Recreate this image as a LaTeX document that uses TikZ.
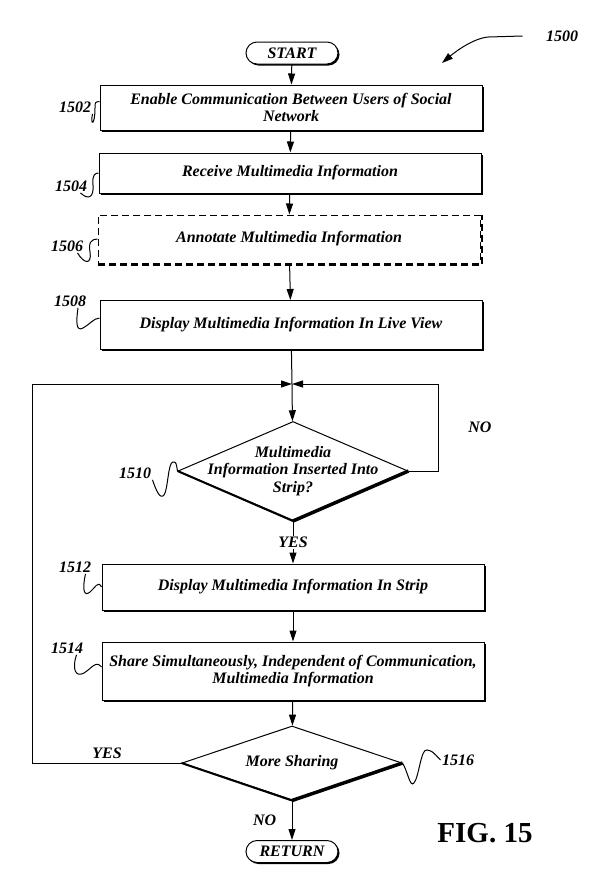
\documentclass[tikz,border=0pt]{standalone}
\usepackage{fontspec}
\setmainfont{Liberation Serif}
\usetikzlibrary{shapes.geometric,shadows,arrows.meta}
\begin{document}
\begin{tikzpicture}[x=1pt,y=-1pt,line width=1pt,
	>={Triangle[length=11pt,width=7pt]},
	every node/.style={font=\fontsize{16}{17.5}\selectfont\bfseries\itshape},
	process/.style={draw,fill=white,minimum width=382pt,align=center,inner sep=0pt,
		general shadow={fill=black,shadow xshift=1.5pt,shadow yshift=-1.5pt}},
	dashbox/.style={draw,fill=white,dash pattern=on 7pt off 4pt,minimum width=382pt,align=center,inner sep=0pt},
	terminal/.style={draw,fill=white,rounded corners=11pt,minimum width=92pt,minimum height=22pt,inner sep=0pt,
		general shadow={fill=black,shadow xshift=1.5pt,shadow yshift=-1.5pt}},
	decision/.style={draw,diamond,fill=white,inner sep=0pt},
	refnum/.style={inner sep=1pt}]
	\useasboundingbox (0,0) rectangle (611,879);
	
	\node[terminal] (start) at (292,53) {START};
	\node[process,minimum height=45pt] (b1502) at (291,107.5) {Enable Communication Between Users of Social\\Network};
	\node[process,minimum height=40pt] (b1504) at (290,173) {Receive Multimedia Information};
	\node[dashbox,minimum height=48pt] (b1506) at (289,239) {Annotate Multimedia Information};
	\node[process,minimum height=49pt] (b1508) at (291,325) {Display Multimedia Information In Live View};
	\coordinate (j) at (292,384);
	\node[decision,minimum width=230pt,minimum height=99pt] (d1510) at (293,471) {};
	\node[align=center] (t1510) at (d1510.center) {Multimedia\\Information Inserted Into\\Strip?};
	\node[process,minimum height=46pt] (b1512) at (293,587) {Display Multimedia Information In Strip};
	\node[process,minimum height=58pt] (b1514) at (293,671) {Share Simultaneously, Independent of Communication,\\Multimedia Information};
	\node[decision,minimum width=220pt,minimum height=74pt] (d1516) at (292,763) {};
	\node (t1516) at (d1516.center) {More Sharing};
	\node[terminal] (ret) at (292,851.5) {RETURN};
	
	\node[refnum] (l1500) at (562,36) {1500};
	\node[refnum] (l1502) at (75,107) {1502};
	\node[refnum] (l1504) at (71,186) {1504};
	\node[refnum] (l1506) at (67,246) {1506};
	\node[refnum] (l1508) at (70,301) {1508};
	\node[refnum] (l1510) at (135,473) {1510};
	\node[refnum] (l1512) at (75,567) {1512};
	\node[refnum] (l1514) at (67,648) {1514};
	\node[refnum] (l1516) at (458,760) {1516};
	\node[font=\fontsize{29}{34}\selectfont\bfseries\upshape] (fig) at (485,833) {FIG. 15};
	\coordinate (a1500) at (442,63);
	
	\draw[line width=2pt,dash pattern=on 7pt off 4pt] ([yshift=-1pt]b1506.south west) -| ([xshift=1pt]b1506.north east);
	\draw[line width=2pt] (d1510.west) -- (d1510.south);
	\draw[line width=3.5pt] (d1510.east) -- (d1510.south);
	\draw[line width=2pt] (d1516.west) -- (d1516.south);
	\draw[line width=3.5pt] (d1516.east) -- (d1516.south);
	
	\draw[->] (start) -- (b1502);
	\draw[->] (b1502) -- (b1504);
	\draw[->] (b1504) -- (b1506);
	\draw[->] (b1506) -- (b1508);
	\draw (b1508) -- (j);
	\draw[->] (j) -- (d1510);
	\draw[->] (d1510.east) -- ++(30,0) |- node[pos=0.25,right=26pt]{NO} (j);
	\draw[->] (d1510) -- node[fill=white,inner sep=1pt]{YES} (b1512);
	\draw[->] (b1512) -- (b1514);
	\draw[->] (b1514) -- (d1516);
	\draw[->] (d1516.west) -- node[above=1pt]{YES} ++(-149,0) |- (j);
	\draw[->] (d1516) -- node[left=12pt]{NO} (ret);
	
	\draw[->] ([xshift=-22pt]l1500.west) -- ++(-34,1) .. controls +(-15,1) and (455,52) .. (a1500);
	\draw (l1502.south east) .. controls (90,126) and (95,126) .. (95,108) .. controls (95,102) .. ([yshift=6pt]b1502.west);
	\draw ([xshift=-8pt]l1504.south east) .. controls (88,200) and (94,198) .. (93,185) .. controls (92,175) and (95,173) .. (b1504.west);
	\draw ([xshift=-7pt]l1506.south east) .. controls (84,264) and (92,265) .. (90,252) .. controls (88,242) and (92,239) .. (b1506.west);
	\draw ([xshift=8pt]l1508.south) .. controls (76,322) and (76,332) .. (83,328) .. controls (89,325) and (94,318) .. ([yshift=7pt]b1508.west);
	\draw (l1510.south east) .. controls (156,490) and (160,500) .. (164,495) .. controls (168,490) and (168,462) .. (173,462) .. controls (176,462) .. (d1510.west);
	\draw ([xshift=-7pt]l1512.south east) .. controls (82,590) and (84,597) .. (90,592) .. controls (95,588) and (98,580) .. (b1512.west);
	\draw ([xshift=-8pt]l1514.south east) .. controls (72,668) and (75,678) .. (84,673) .. controls (92,668) and (96,660) .. ([yshift=4pt]b1514.west);
	\draw (d1516.east) .. controls (408,772) and (410,788) .. (414,783) .. controls (419,777) and (421,748) .. (427,750) .. controls (432,751) .. (l1516.west);
\end{tikzpicture}
\end{document}
